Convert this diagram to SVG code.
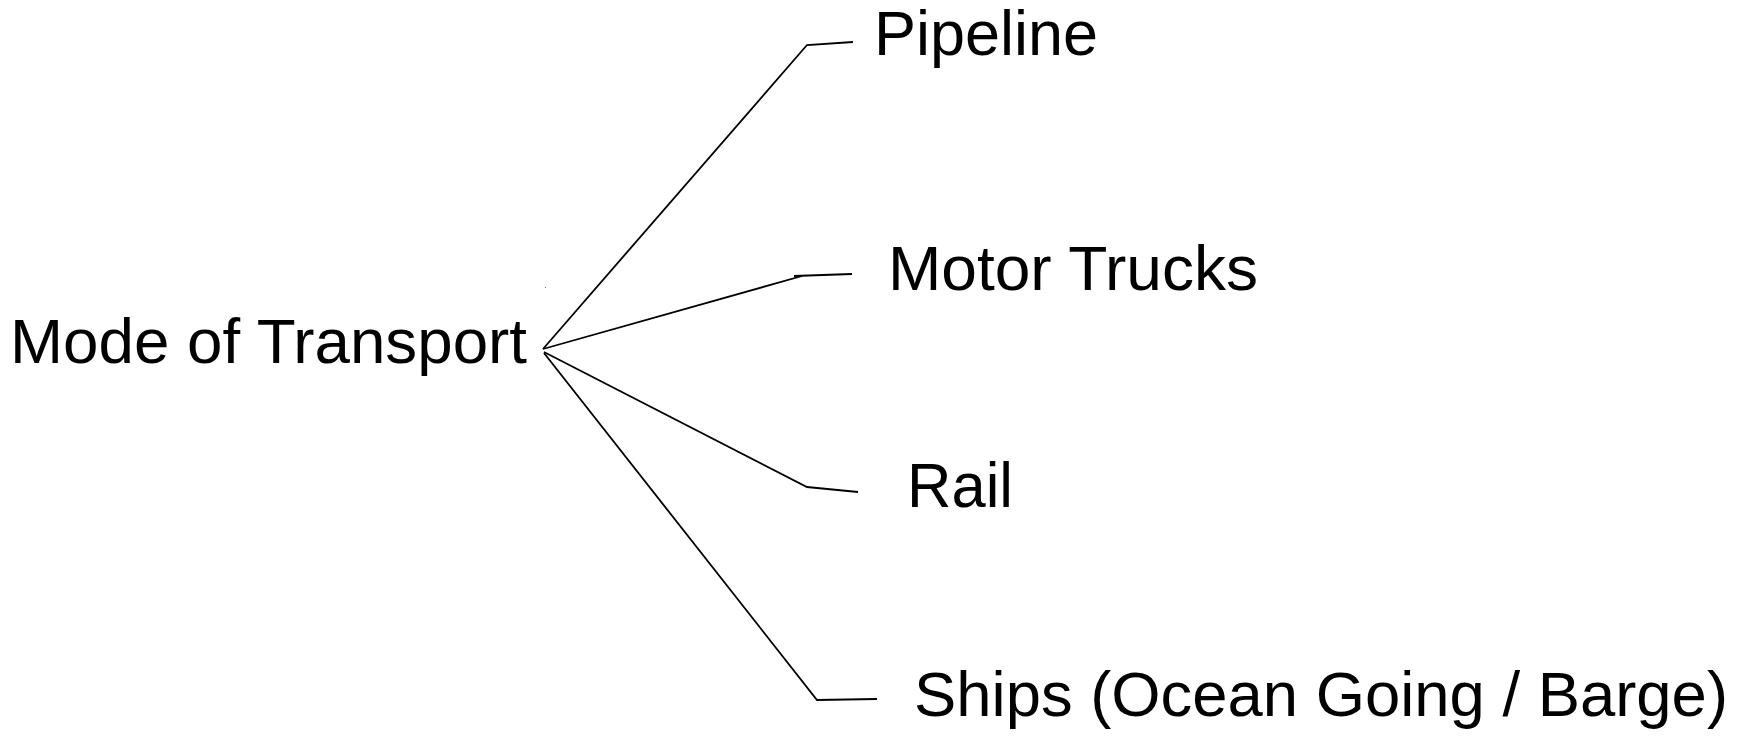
<svg xmlns="http://www.w3.org/2000/svg" width="1746" height="736" viewBox="0 0 1746 736">
<style>
text{font-family:"Liberation Sans",Arial,sans-serif;font-size:63px;fill:#000}
.c{fill:none;stroke:#000;stroke-width:1.8;stroke-linejoin:miter}
</style>
<rect width="1746" height="736" fill="#fff"/>
<g id="connectors">
<polyline class="c" points="543,349 807,45 853,42"/>
<line class="c" x1="543" y1="349" x2="802" y2="276"/>
<line class="c" x1="794" y1="276" x2="852" y2="274"/>
<polyline class="c" points="544,352 807,487 858,492"/>
<polyline class="c" points="544,353 817,700 877,699"/>
</g>
<rect x="545" y="287" width="1" height="1" fill="#666"/>
<g id="mode"><text x="10" y="363" textLength="517" lengthAdjust="spacingAndGlyphs">Mode of Transport</text></g>
<g id="pipeline"><text x="874" y="55" textLength="224" lengthAdjust="spacingAndGlyphs">Pipeline</text></g>
<g id="motor"><text x="888" y="290" textLength="370" lengthAdjust="spacingAndGlyphs">Motor Trucks</text></g>
<g id="rail"><text x="907" y="507" textLength="106" lengthAdjust="spacingAndGlyphs">Rail</text></g>
<g id="ships"><text x="914" y="716" textLength="814" lengthAdjust="spacingAndGlyphs">Ships (Ocean Going / Barge)</text></g>
</svg>
